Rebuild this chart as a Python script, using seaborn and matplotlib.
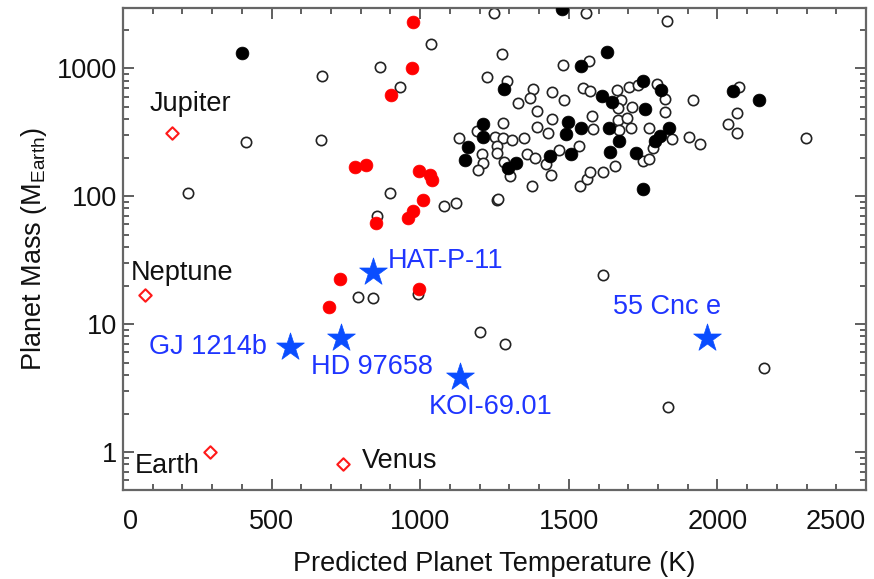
import matplotlib
matplotlib.use("Agg")
import matplotlib.pyplot as plt
import seaborn as sns
import pandas as pd
import numpy as np
from matplotlib.ticker import FixedLocator, MultipleLocator, LogLocator, NullFormatter

# ---------------- data ----------------
open_T = [671, 413, 666, 218, 864, 1035, 931, 1224, 1248, 898, 856, 1080, 1120, 1131, 1257,
          1558, 1831, 1275, 1482, 1568, 1293, 1381, 1369, 1445, 1484, 1330, 1549, 1571, 1661,
          1703, 1734, 1798, 1824, 1677, 1712, 1824, 1667, 1394, 1577, 1442, 1278, 1664, 1695,
          1392, 1429, 1581, 1668, 1708, 1771, 1192, 1252, 1278, 1308, 1350, 1257, 1846, 1905,
          1941, 1535, 1468, 1784, 1260, 1207, 1358, 1386, 1212, 1196, 1282, 1302, 1423, 1440,
          1375, 1538, 1560, 1571, 1616, 1655, 1751, 1771, 1263, 2071, 1917, 2065, 2037, 2065,
          2298, 792, 842, 992, 1201, 1285, 1616, 2157, 1833]
open_M = [866, 265, 274, 106, 1018, 1531, 707, 855, 2673, 106, 70, 84, 89, 282, 94,
          2673, 2329, 1286, 1055, 1140, 791, 682, 586, 646, 562, 535, 701, 661, 673,
          714, 736, 746, 573, 562, 499, 456, 484, 461, 424, 400, 370, 393, 404,
          348, 309, 334, 328, 338, 342, 322, 291, 282, 274, 282, 247, 277, 288,
          254, 247, 229, 239, 216, 213, 212, 199, 180, 160, 185, 144, 177, 146,
          120, 120, 137, 153, 155, 172, 189, 194, 95, 707, 562, 448, 365, 309,
          282, 16.4, 15.9, 17.1, 8.7, 6.94, 24.1, 4.51, 2.26]

black_T = [399, 1478, 1630, 1540, 1283, 1611, 1644, 1751, 1810, 1757, 1212, 1496, 1541, 1635,
           1838, 1490, 1210, 1162, 1669, 1807, 1790, 1639, 1726, 1437, 1506, 1151, 1296, 1322,
           1749, 2054, 2141]
black_M = [1303, 2872, 1325, 1037, 682, 604, 545, 791, 673, 478, 365, 376, 338, 338,
           342, 303, 291, 243, 269, 294, 269, 222, 216, 206, 212, 191, 166, 180,
           113, 665, 562]

red_T = [975, 971, 901, 782, 818, 997, 1033, 1039, 1011, 975, 959, 850, 730, 694, 996]
red_M = [2287, 995, 612, 168, 175, 158, 146, 133, 93, 77, 67, 62, 22.5, 13.7, 18.7]

solar_names = ["Jupiter", "Neptune", "Earth", "Venus"]
solar_T = [166, 74, 293, 739]
solar_M = [314, 16.8, 1.0, 0.805]

star_names = ["HAT-P-11", "GJ 1214b", "HD 97658", "KOI-69.01", "55 Cnc e"]
star_T = [842, 562, 733, 1134, 1964]
star_M = [25.6, 6.58, 7.73, 3.83, 7.73]

x_ticks = [0, 500, 1000, 1500, 2000, 2500]
y_ticks = [1, 10, 100, 1000]
y_ticklabels = ["1", "10", "100", "1000"]

# ---------------- style ----------------
sns.set_style("ticks")
FONT = ["Liberation Sans", "DejaVu Sans"]
plt.rcParams["font.family"] = FONT
plt.rcParams["mathtext.fontset"] = "custom"
plt.rcParams["mathtext.rm"] = "Liberation Sans"
plt.rcParams["mathtext.it"] = "Liberation Sans"
FS = 19.5

fig = plt.figure(figsize=(8.74, 5.79), dpi=100)
ax = fig.add_axes([123 / 874, 1 - 490 / 579, (866 - 123) / 874, (490 - 8) / 579])

df_open = pd.DataFrame({"T": open_T, "M": open_M})
df_black = pd.DataFrame({"T": black_T, "M": black_M})
df_red = pd.DataFrame({"T": red_T, "M": red_M})
df_solar = pd.DataFrame({"name": solar_names, "T": solar_T, "M": solar_M})
df_star = pd.DataFrame({"name": star_names, "T": star_T, "M": star_M})

sns.scatterplot(data=df_open, x="T", y="M", ax=ax, marker="o", s=55,
                facecolor="white", edgecolor="#222222", linewidth=1.2, zorder=2)
sns.scatterplot(data=df_black, x="T", y="M", ax=ax, marker="o", s=85,
                color="black", edgecolor="black", linewidth=0.5, zorder=3)
sns.scatterplot(data=df_red, x="T", y="M", ax=ax, marker="o", s=85,
                color="#ff0000", edgecolor="#ff0000", linewidth=0.5, zorder=4)
sns.scatterplot(data=df_solar, x="T", y="M", ax=ax, marker="D", s=40,
                facecolor="white", edgecolor="#ff1a1a", linewidth=1.5, zorder=4)
sns.scatterplot(data=df_star, x="T", y="M", ax=ax, marker="*", s=440,
                color="#0a4dff", edgecolor="#0a4dff", linewidth=0.5, zorder=5)

ax.set_yscale("log")
ax.set_xlim(0, 2500)
ax.set_ylim(0.505, 2950)

# annotations (offsets in pixels from the marker)
solar_offsets = {"Jupiter": (18, 29, "center"), "Neptune": (37, 22, "center"),
                 "Earth": (-43, -14, "center"), "Venus": (19, 3, "left")}
for n, t, m in zip(solar_names, solar_T, solar_M):
    dx, dy, ha = solar_offsets[n]
    ax.annotate(n, (t, m), xytext=(dx, dy), textcoords="offset pixels",
                ha=ha, va="center", fontsize=FS, color="#111111")

star_offsets = {"HAT-P-11": (15, 11, "left"), "GJ 1214b": (-23, 0, "right"),
                "HD 97658": (31, -29, "center"), "KOI-69.01": (31, -30, "center"),
                "55 Cnc e": (-40, 31, "center")}
for n, t, m in zip(star_names, star_T, star_M):
    dx, dy, ha = star_offsets[n]
    ax.annotate(n, (t, m), xytext=(dx, dy), textcoords="offset pixels",
                ha=ha, va="center", fontsize=FS, color="#1f35ff")

# ticks
ax.xaxis.set_major_locator(FixedLocator(x_ticks))
ax.xaxis.set_minor_locator(MultipleLocator(100))
ax.set_xticklabels([str(v) for v in x_ticks])
ax.yaxis.set_major_locator(FixedLocator(y_ticks))
ax.yaxis.set_minor_locator(LogLocator(base=10, subs=np.arange(2, 10)))
ax.yaxis.set_minor_formatter(NullFormatter())
ax.set_yticklabels(y_ticklabels)
labs = ax.get_xticklabels()
labs[0].set_ha("left")
labs[-1].set_ha("right")

ax.tick_params(which="both", direction="in", top=True, right=True,
               colors="#444444", labelcolor="#111111", width=1.2, labelsize=FS)
ax.tick_params(axis="x", pad=14)
ax.tick_params(axis="y", pad=4)
ax.tick_params(which="major", length=8)
ax.tick_params(which="minor", length=4.5)
for sp in ax.spines.values():
    sp.set_color("#666666")
    sp.set_linewidth(1.6)

ax.set_xlabel("Predicted Planet Temperature (K)", fontsize=FS, color="#111111", labelpad=11)
ax.set_ylabel(r"Planet Mass (M$_{\mathrm{Earth}}$)", fontsize=FS, color="#111111", labelpad=6)

fig.savefig("out.png", dpi=100)
